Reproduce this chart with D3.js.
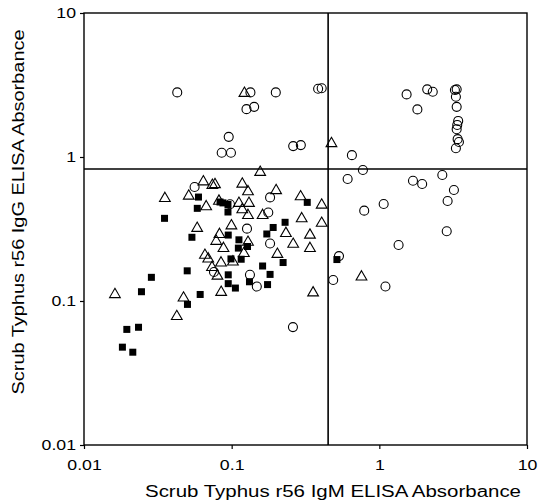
<!DOCTYPE html>
<html>
<head>
<meta charset="utf-8">
<script src="https://cdn.jsdelivr.net/npm/d3@7"></script>
<style>
  body { margin: 0; background: #fff; }
  text { font-family: "Liberation Sans", Arial, sans-serif; fill: #000; }
</style>
</head>
<body>
<div id="chart"></div>
<script>
// IgM (x) and IgG (y) absorbance
var squaresX = [0.0596, 0.0585, 0.0834, 0.0873, 0.0944, 0.0944, 0.0351, 0.0538, 0.0948, 0.112,
                0.111, 0.128, 0.0989, 0.116, 0.230, 0.191, 0.173, 0.325, 0.223, 0.162,
                0.182, 0.175, 0.132, 0.0948, 0.0948, 0.106, 0.050, 0.0286, 0.0245, 0.0612,
                0.0502, 0.0195, 0.0234, 0.0182, 0.0214, 0.516];
var squaresY = [0.527, 0.440, 0.487, 0.480, 0.468, 0.415, 0.375, 0.277, 0.287, 0.266,
                0.233, 0.239, 0.196, 0.195, 0.352, 0.324, 0.292, 0.484, 0.185, 0.175,
                0.153, 0.130, 0.136, 0.152, 0.132, 0.123, 0.162, 0.146, 0.116, 0.111,
                0.0947, 0.0635, 0.0657, 0.0478, 0.0441, 0.194];

var trianglesX = [0.156, 0.0643, 0.0740, 0.0771, 0.118, 0.129, 0.200, 0.293, 0.407, 0.0353,
                  0.0512, 0.0672, 0.112, 0.131, 0.118, 0.129, 0.162, 0.298, 0.407, 0.0584,
                  0.0996, 0.233, 0.339, 0.0827, 0.0786, 0.0880, 0.129, 0.261, 0.339, 0.204,
                  0.0659, 0.0694, 0.0847, 0.102, 0.121, 0.0736, 0.0801, 0.0849, 0.0472, 0.0425,
                  0.0162, 0.356, 0.757, 0.474, 0.122, 0.0820];
var trianglesY = [0.783, 0.673, 0.636, 0.644, 0.649, 0.575, 0.585, 0.530, 0.464, 0.516,
                  0.536, 0.452, 0.477, 0.477, 0.431, 0.393, 0.393, 0.373, 0.347, 0.320,
                  0.333, 0.295, 0.287, 0.290, 0.260, 0.232, 0.256, 0.248, 0.232, 0.211,
                  0.208, 0.196, 0.184, 0.187, 0.214, 0.171, 0.149, 0.115, 0.105, 0.0781,
                  0.111, 0.114, 0.147, 1.24, 2.77, 0.494];

var circlesX = [0.0428, 0.134, 0.199, 0.385, 0.407, 0.126, 0.142, 0.0955, 0.0856, 0.0989,
                0.261, 0.294, 1.53, 2.11, 2.30, 1.81, 3.25, 3.34, 3.30, 3.34,
                3.42, 3.37, 3.34, 3.39, 3.46, 3.30, 0.652, 0.774, 0.610, 1.69,
                1.95, 2.67, 3.20, 2.90, 1.07, 0.790, 2.86, 1.35, 0.533, 0.487,
                1.10, 0.0561, 0.0974, 0.182, 0.177, 0.127, 0.182, 0.133, 0.148, 0.260,
                0.0759];
var circlesY = [2.81, 2.81, 2.81, 2.98, 3.00, 2.15, 2.23, 1.38, 1.07, 1.07,
                1.19, 1.21, 2.72, 2.95, 2.84, 2.14, 2.92, 2.95, 2.62, 2.23,
                1.78, 1.67, 1.56, 1.33, 1.27, 1.15, 1.03, 0.812, 0.703, 0.684,
                0.649, 0.750, 0.590, 0.495, 0.472, 0.424, 0.305, 0.245, 0.205, 0.140,
                0.126, 0.619, 0.470, 0.524, 0.412, 0.318, 0.251, 0.152, 0.126, 0.0659,
                0.159];

var tickValues = [0.01, 0.1, 1, 10];
var tickLabels = ["0.01", "0.1", "1", "10"];
var cutoffX = 0.45, cutoffY = 0.825;

var margin = {top: 13, right: 28, bottom: 59, left: 84},
    width = 555 - margin.left - margin.right,
    height = 504 - margin.top - margin.bottom;

var svg = d3.select("#chart")
  .append("svg")
    .attr("width", 555)
    .attr("height", 504)
  .append("g")
    .attr("transform", "translate(" + margin.left + "," + margin.top + ")");

var x = d3.scaleLog().domain([0.01, 10]).range([0, width]);
var y = d3.scaleLog().domain([0.01, 10]).range([height, 0]);

// the scanned lettering is wider than Arial, so stretch it a bit
function widen(sel, k) {
  sel.each(function () {
    var w = this.getComputedTextLength();
    d3.select(this).attr("textLength", w * k).attr("lengthAdjust", "spacingAndGlyphs");
  });
}

var xAxis = svg.append("g")
    .attr("transform", "translate(0," + height + ")")
    .call(d3.axisBottom(x).tickValues(tickValues).tickSize(4).tickPadding(10)
      .tickFormat(function (d, i) { return tickLabels[i]; }));
xAxis.select(".domain").remove();
xAxis.selectAll("text").style("font-size", "15px").call(widen, 1.18);

var yAxis = svg.append("g")
    .call(d3.axisLeft(y).tickValues(tickValues).tickSize(4).tickPadding(4)
      .tickFormat(function (d, i) { return tickLabels[i]; }));
yAxis.select(".domain").remove();
yAxis.selectAll("text").style("font-size", "15px").call(widen, 1.18);

svg.selectAll(".tick line").attr("stroke", "#000").attr("stroke-width", 1.2);

// frame
svg.append("rect")
    .attr("width", width)
    .attr("height", height)
    .attr("fill", "none")
    .attr("stroke", "#000")
    .attr("stroke-width", 1.4);

// cutoff lines
svg.append("line")
    .attr("x1", x(cutoffX)).attr("x2", x(cutoffX))
    .attr("y1", 0).attr("y2", height)
    .attr("stroke", "#000").attr("stroke-width", 1.6);
svg.append("line")
    .attr("x1", 0).attr("x2", width)
    .attr("y1", y(cutoffY)).attr("y2", y(cutoffY))
    .attr("stroke", "#000").attr("stroke-width", 1.6);

var tri = d3.symbol().type(d3.symbolTriangle).size(50);

svg.append("g")
  .selectAll("path")
  .data(trianglesX)
  .enter()
  .append("path")
    .attr("d", tri)
    .attr("transform", function (d, i) { return "translate(" + x(d) + "," + y(trianglesY[i]) + ")"; })
    .attr("fill", "none")
    .attr("stroke", "#000")
    .attr("stroke-width", 1.1);

svg.append("g")
  .selectAll("circle")
  .data(circlesX)
  .enter()
  .append("circle")
    .attr("cx", function (d) { return x(d); })
    .attr("cy", function (d, i) { return y(circlesY[i]); })
    .attr("r", 4.5)
    .attr("fill", "none")
    .attr("stroke", "#000")
    .attr("stroke-width", 1.1);

svg.append("g")
  .selectAll("rect")
  .data(squaresX)
  .enter()
  .append("rect")
    .attr("x", function (d) { return x(d) - 3.5; })
    .attr("y", function (d, i) { return y(squaresY[i]) - 3.5; })
    .attr("width", 7)
    .attr("height", 7)
    .attr("fill", "#000");

svg.append("text")
    .attr("x", 249)
    .attr("y", height + 52)
    .attr("text-anchor", "middle")
    .attr("textLength", 376)
    .attr("lengthAdjust", "spacingAndGlyphs")
    .style("font-size", "16px")
    .text("Scrub Typhus r56 IgM ELISA Absorbance");

svg.append("text")
    .attr("transform", "translate(-60,199) rotate(-90)")
    .attr("text-anchor", "middle")
    .attr("textLength", 365)
    .attr("lengthAdjust", "spacingAndGlyphs")
    .style("font-size", "16px")
    .text("Scrub Typhus r56 IgG ELISA Absorbance");
</script>
</body>
</html>
